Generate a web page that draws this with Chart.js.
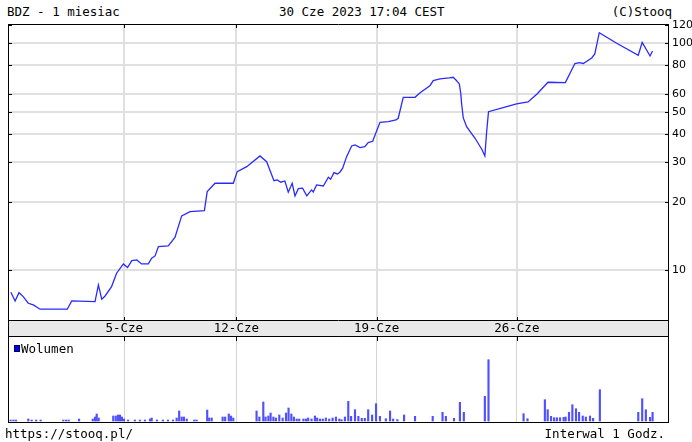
<!DOCTYPE html>
<html>
<head>
<meta charset="utf-8">
<script src="https://cdn.jsdelivr.net/npm/chart.js@4.4.1/dist/chart.umd.min.js"></script>
<style>
  body { margin: 0; background: #fff; width: 692px; height: 442px; overflow: hidden; position: relative;
         font-family: "DejaVu Sans Mono", monospace; font-size: 12.5px; color: #000; }
  .txt { position: absolute; white-space: nowrap; line-height: 14px; }
  #c1 { position: absolute; left: 0; top: 0; }
  #c2 { position: absolute; left: 0; top: 336px; }
  #legendBox { position: absolute; left: 14px; top: 345px; width: 4px; height: 5px; background: #0000f0; border: 1px solid #000050; }
</style>
</head>
<body>
<div class="txt" style="left:7px; top:5px">BDZ - 1 miesiac</div>
<div class="txt" style="left:279px; top:5px">30 Cze 2023 17:04 CEST</div>
<div class="txt" style="right:20px; top:5px">(C)Stooq</div>
<canvas id="c1" width="692" height="337" style="width:692px;height:337px"></canvas>
<canvas id="c2" width="692" height="106" style="width:692px;height:106px"></canvas>
<div id="legendBox"></div>
<div class="txt" style="left:21px; top:342px">Wolumen</div>
<div class="txt" style="left:5px; top:427px">https://stooq.pl/</div>
<div class="txt" style="right:27px; top:427px">Interwal 1 Godz.</div>
<script>
// x axis is in trading days (5-Cze = 4, 12-Cze = 8 ...)
const dayTicks = [4, 8, 13, 18];
const dayLabels = ['5-Cze', '12-Cze', '19-Cze', '26-Cze'];
const priceTicks = [10, 20, 30, 40, 50, 60, 80, 100, 120];

const lineDays = [-0.04, 0.11, 0.25, 0.40, 0.58, 0.76, 1.00, 1.97, 2.13, 2.96,
  3.08, 3.20, 3.32, 3.55, 3.73, 3.97, 4.12, 4.27, 4.45, 4.62,
  4.86, 4.98, 5.10, 5.22, 5.57, 5.81, 6.05, 6.35, 6.86, 6.96,
  7.24, 7.89, 8.03, 8.37, 8.84, 9.08, 9.34, 9.46, 9.58, 9.73,
  9.85, 9.99, 10.09, 10.21, 10.36, 10.51, 10.68, 10.74, 10.86, 11.10,
  11.28, 11.36, 11.48, 11.60, 11.69, 11.79, 11.93, 12.11, 12.23, 12.41,
  12.58, 12.70, 12.86, 13.12, 13.42, 13.69, 13.77, 13.95, 14.37, 14.55,
  14.90, 15.02, 15.26, 15.59, 15.73, 15.83, 15.95, 16.00, 16.03, 16.09,
  16.21, 16.51, 16.75, 16.86, 16.92, 16.99, 17.64, 17.99, 18.40, 18.72,
  19.11, 19.73, 20.07, 20.23, 20.37, 20.67, 20.78, 20.94, 21.56, 22.33,
  22.47, 22.75, 22.84];
const linePrices = [8.02, 7.34, 7.98, 7.67, 7.17, 7.05, 6.75, 6.75, 7.34, 7.29,
  8.63, 7.47, 7.72, 8.49, 9.72, 10.68, 10.29, 11.04, 11.12, 10.68,
  10.68, 11.31, 11.58, 12.73, 12.82, 13.97, 17.38, 18.15, 18.34, 22.23,
  24.20, 24.20, 27.22, 28.63, 31.92, 30.12, 24.85, 25.02, 24.45, 24.77,
  22.10, 24.20, 21.28, 22.91, 23.01, 21.28, 22.62, 22.16, 23.78, 23.54,
  25.72, 25.20, 26.95, 26.59, 27.06, 28.18, 31.69, 35.32, 35.68, 34.71,
  35.07, 36.52, 37.04, 44.91, 45.18, 45.97, 46.77, 57.85, 57.85, 60.62,
  65.08, 68.46, 69.65, 70.36, 70.86, 68.95, 66.22, 60.25, 54.45, 46.91,
  42.95, 38.18, 34.16, 31.92, 40.29, 49.98, 52.60, 54.06, 55.16, 59.83,
  67.36, 67.09, 81.48, 82.14, 81.48, 86.15, 89.72, 111.3, 100.0, 88.63,
  101.0, 87.92, 92.50];

const volDays = [-0.05, 0.05, 0.14, 0.58, 0.70, 0.86, 1.02, 1.83, 1.93, 2.02,
  2.39, 2.88, 2.96, 3.02, 3.09, 3.61, 3.70, 3.78, 3.85, 3.92,
  3.99, 4.14, 4.38, 4.56, 4.74, 4.92, 4.98, 5.17, 5.38, 5.56,
  5.74, 5.87, 5.96, 6.05, 6.13, 6.23, 6.50, 6.58, 6.96, 7.03,
  7.12, 7.51, 7.60, 7.73, 7.81, 7.89, 8.72, 8.82, 8.96, 9.04,
  9.14, 9.22, 9.32, 9.41, 9.53, 9.65, 9.77, 9.86, 9.96, 10.05,
  10.15, 10.24, 10.39, 10.48, 10.56, 10.68, 10.80, 10.88, 10.98, 11.08,
  11.19, 11.31, 11.43, 11.55, 11.67, 11.75, 11.87, 11.99, 12.09, 12.23,
  12.35, 12.47, 12.58, 12.70, 12.84, 12.98, 13.12, 13.33, 13.48, 13.59,
  13.74, 13.98, 14.37, 15.00, 15.35, 15.47, 15.76, 15.97, 16.11, 16.86,
  16.99, 18.24, 18.38, 19.00, 19.10, 19.22, 19.33, 19.43, 19.54, 19.67,
  19.74, 19.86, 19.98, 20.11, 20.22, 20.35, 20.46, 20.61, 20.72, 20.96,
  22.33, 22.47, 22.60, 22.75, 22.84];
const volValues = [10, 10, 10, 20, 10, 10, 10, 10, 10, 10,
  20, 20, 40, 70, 30, 50, 50, 60, 60, 40,
  20, 10, 10, 10, 10, 20, 30, 10, 10, 10,
  10, 30, 100, 40, 40, 20, 10, 10, 110, 30,
  30, 40, 40, 70, 50, 30, 100, 40, 190, 40,
  50, 80, 40, 30, 60, 30, 80, 130, 70, 40,
  20, 20, 20, 20, 30, 20, 50, 30, 20, 20,
  30, 20, 30, 40, 20, 13, 40, 197, 47, 113,
  47, 27, 27, 113, 60, 173, 47, 23, 100, 20,
  15, 60, 47, 47, 87, 47, 27, 187, 87, 247,
  613, 73, 23, 213, 113, 47, 33, 33, 33, 37,
  40, 87, 163, 123, 87, 50, 40, 50, 27, 313,
  87, 223, 113, 37, 87];

const dayMin = -0.143;
const dayMax = 23.39;

const mainFrame = {
  id: 'mainFrame',
  beforeDraw(chart) {
    const ctx = chart.ctx, a = chart.chartArea;
    ctx.save();
    ctx.fillStyle = '#e9e9e9';
    ctx.fillRect(a.left, a.bottom, a.right - a.left, 17);
    ctx.restore();
  },
  afterDraw(chart) {
    const ctx = chart.ctx, a = chart.chartArea;
    const xs = chart.scales.x, ys = chart.scales.y;
    ctx.save();
    ctx.strokeStyle = '#000';
    ctx.lineWidth = 1;
    ctx.beginPath();
    ctx.moveTo(a.left + 0.5, a.top + 0.5);
    ctx.lineTo(a.right + 0.5, a.top + 0.5);
    ctx.moveTo(a.left + 0.5, a.bottom + 0.5);
    ctx.lineTo(a.right + 0.5, a.bottom + 0.5);
    ctx.moveTo(a.left, 336.5);
    ctx.lineTo(a.right + 1, 336.5);
    ctx.moveTo(a.left + 0.5, a.top);
    ctx.lineTo(a.left + 0.5, 337);
    ctx.moveTo(a.right + 0.5, a.top);
    ctx.lineTo(a.right + 0.5, 337);
    // small inner ticks
    priceTicks.forEach(v => {
      const y = Math.round(ys.getPixelForValue(v)) + 0.5;
      ctx.moveTo(a.left, y); ctx.lineTo(a.left + 4, y);
      ctx.moveTo(a.right - 3, y); ctx.lineTo(a.right + 1, y);
    });
    dayTicks.forEach(v => {
      const x = Math.round(xs.getPixelForValue(v)) + 0.5;
      ctx.moveTo(x, a.top); ctx.lineTo(x, a.top + 4);
      ctx.moveTo(x, a.bottom - 3); ctx.lineTo(x, a.bottom);
    });
    ctx.stroke();
    ctx.restore();
  }
};

const volFrame = {
  id: 'volFrame',
  afterDraw(chart) {
    const ctx = chart.ctx, a = chart.chartArea;
    const xs = chart.scales.x;
    ctx.save();
    ctx.strokeStyle = '#000';
    ctx.lineWidth = 1;
    ctx.beginPath();
    ctx.moveTo(a.left, 0.5); ctx.lineTo(a.right + 1, 0.5);
    ctx.moveTo(a.left, a.bottom + 0.5); ctx.lineTo(a.right + 1, a.bottom + 0.5);
    ctx.moveTo(a.left + 0.5, 0); ctx.lineTo(a.left + 0.5, a.bottom + 1);
    ctx.moveTo(a.right + 0.5, 0); ctx.lineTo(a.right + 0.5, a.bottom + 1);
    dayTicks.forEach(v => {
      const x = Math.round(xs.getPixelForValue(v)) + 0.5;
      ctx.moveTo(x, 1); ctx.lineTo(x, 5);
    });
    ctx.stroke();
    ctx.restore();
  }
};

new Chart(document.getElementById('c1'), {
  type: 'line',
  data: {
    datasets: [{
      data: lineDays.map((d, i) => ({ x: d, y: linePrices[i] })),
      borderColor: '#2a2aff',
      borderWidth: 1.3,
      pointRadius: 0,
      tension: 0,
      fill: false
    }]
  },
  options: {
    responsive: false,
    animation: false,
    layout: { padding: { left: 8, top: 24, right: 0, bottom: 0 } },
    plugins: { legend: { display: false }, tooltip: { enabled: false } },
    scales: {
      x: {
        type: 'linear', min: dayMin, max: dayMax,
        afterBuildTicks: s => { s.ticks = dayTicks.map(v => ({ value: v })); },
        afterFit: s => { s.height = 17; },
        ticks: {
          autoSkip: false, maxRotation: 0, padding: 1, color: '#000',
          font: { family: 'DejaVu Sans Mono', size: 12.5 },
          callback: v => dayLabels[dayTicks.indexOf(v)]
        },
        grid: { color: '#e0e0e0', lineWidth: 2, drawTicks: false },
        border: { display: false }
      },
      y: {
        type: 'logarithmic', position: 'right', min: 6.05, max: 121.6,
        afterBuildTicks: s => { s.ticks = priceTicks.map(v => ({ value: v })); },
        afterFit: s => { s.width = 24; },
        ticks: {
          autoSkip: false, padding: 4, color: '#000',
          font: { family: 'DejaVu Sans', size: 11 },
          callback: v => String(v)
        },
        grid: {
          color: c => (c.tick && c.tick.value === 120) ? 'rgba(0,0,0,0)' : '#e0e0e0',
          lineWidth: 2, drawTicks: false
        },
        border: { display: false }
      }
    }
  },
  plugins: [mainFrame]
});

new Chart(document.getElementById('c2'), {
  type: 'bar',
  data: {
    datasets: [{
      data: volDays.map((d, i) => ({ x: d, y: volValues[i] })),
      backgroundColor: '#5050ff',
      borderWidth: 0,
      barThickness: 1.5
    }]
  },
  options: {
    responsive: false,
    animation: false,
    layout: { padding: { left: 8, top: 1, right: 24, bottom: 20 } },
    plugins: { legend: { display: false }, tooltip: { enabled: false } },
    scales: {
      x: {
        type: 'linear', min: dayMin, max: dayMax, offset: false,
        afterBuildTicks: s => { s.ticks = dayTicks.map(v => ({ value: v })); },
        afterFit: s => { s.height = 0; },
        ticks: { display: false },
        grid: { color: '#d4d4d4', lineWidth: 1, drawTicks: false, offset: false },
        border: { display: false }
      },
      y: { display: false, min: -10, max: 840 }
    }
  },
  plugins: [volFrame]
});
</script>
</body>
</html>
